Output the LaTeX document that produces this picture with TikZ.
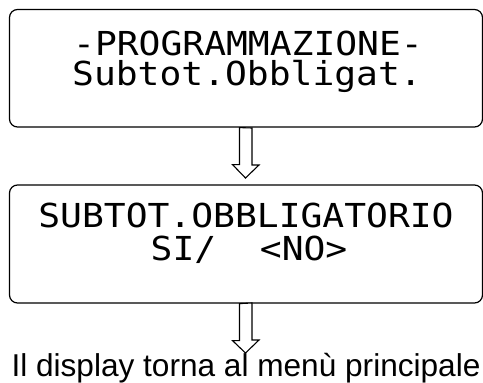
\documentclass[tikz,border=0pt]{standalone}
\usepackage{fontspec}
\setmainfont{Liberation Sans}
\newfontfamily\lcdfont[FakeStretch=1.1]{DejaVu Sans Mono}
\usetikzlibrary{calc}
\tikzset{
  panel/.style={draw, line width=1.2pt, rounded corners=8pt, minimum width=473pt, inner sep=0pt},
  lcd/.style={anchor=base, inner sep=0pt, font=\lcdfont\fontsize{33}{33}\selectfont},
  hollowarrow/.style={draw, line width=1.1pt, fill=white, line join=miter},
  caption/.style={anchor=base, inner sep=0pt, font=\fontsize{31.6}{32}\selectfont}
}
\begin{document}
\begin{tikzpicture}[x=1pt,y=-1pt]
\useasboundingbox (0,0) rectangle (483,383);
% boxes
\node[panel, minimum height=117.5pt] (b1) at (246,68.25) {};
\node[panel, minimum height=118pt] (b2) at (246,244) {};
% texts
\node[lcd] (t1a) at (248,55) {-PROGRAMMAZIONE-};
\node[lcd] (t1b) at (247,85.5) {Subtot.Obbligat.};
\node[lcd] (t2a) at (246,227) {SUBTOT.OBBLIGATORIO};
\node[lcd] (t2b) at (249,260) {SI/\ \ <NO>};
% arrows
\coordinate (tip1) at (245.5,178);
\coordinate (tip2) at (245.5,353);
\draw[hollowarrow] ($(b1.south)+(-6.5,0)$) -- ++(0,37) -- ++(-7,0) -- (tip1) -- ++(13.5,-13) -- ++(-7,0) -- ++(0,-37) -- cycle;
\node[caption] (cap) at (246,376) {Il display torna al menù principale};
\draw[hollowarrow] ($(b2.south)+(-6.5,0)$) -- ++(0,37) -- ++(-7,0) -- (tip2) -- ++(13.5,-13) -- ++(-7,0) -- ++(0,-37) -- cycle;
\end{tikzpicture}
\end{document}
